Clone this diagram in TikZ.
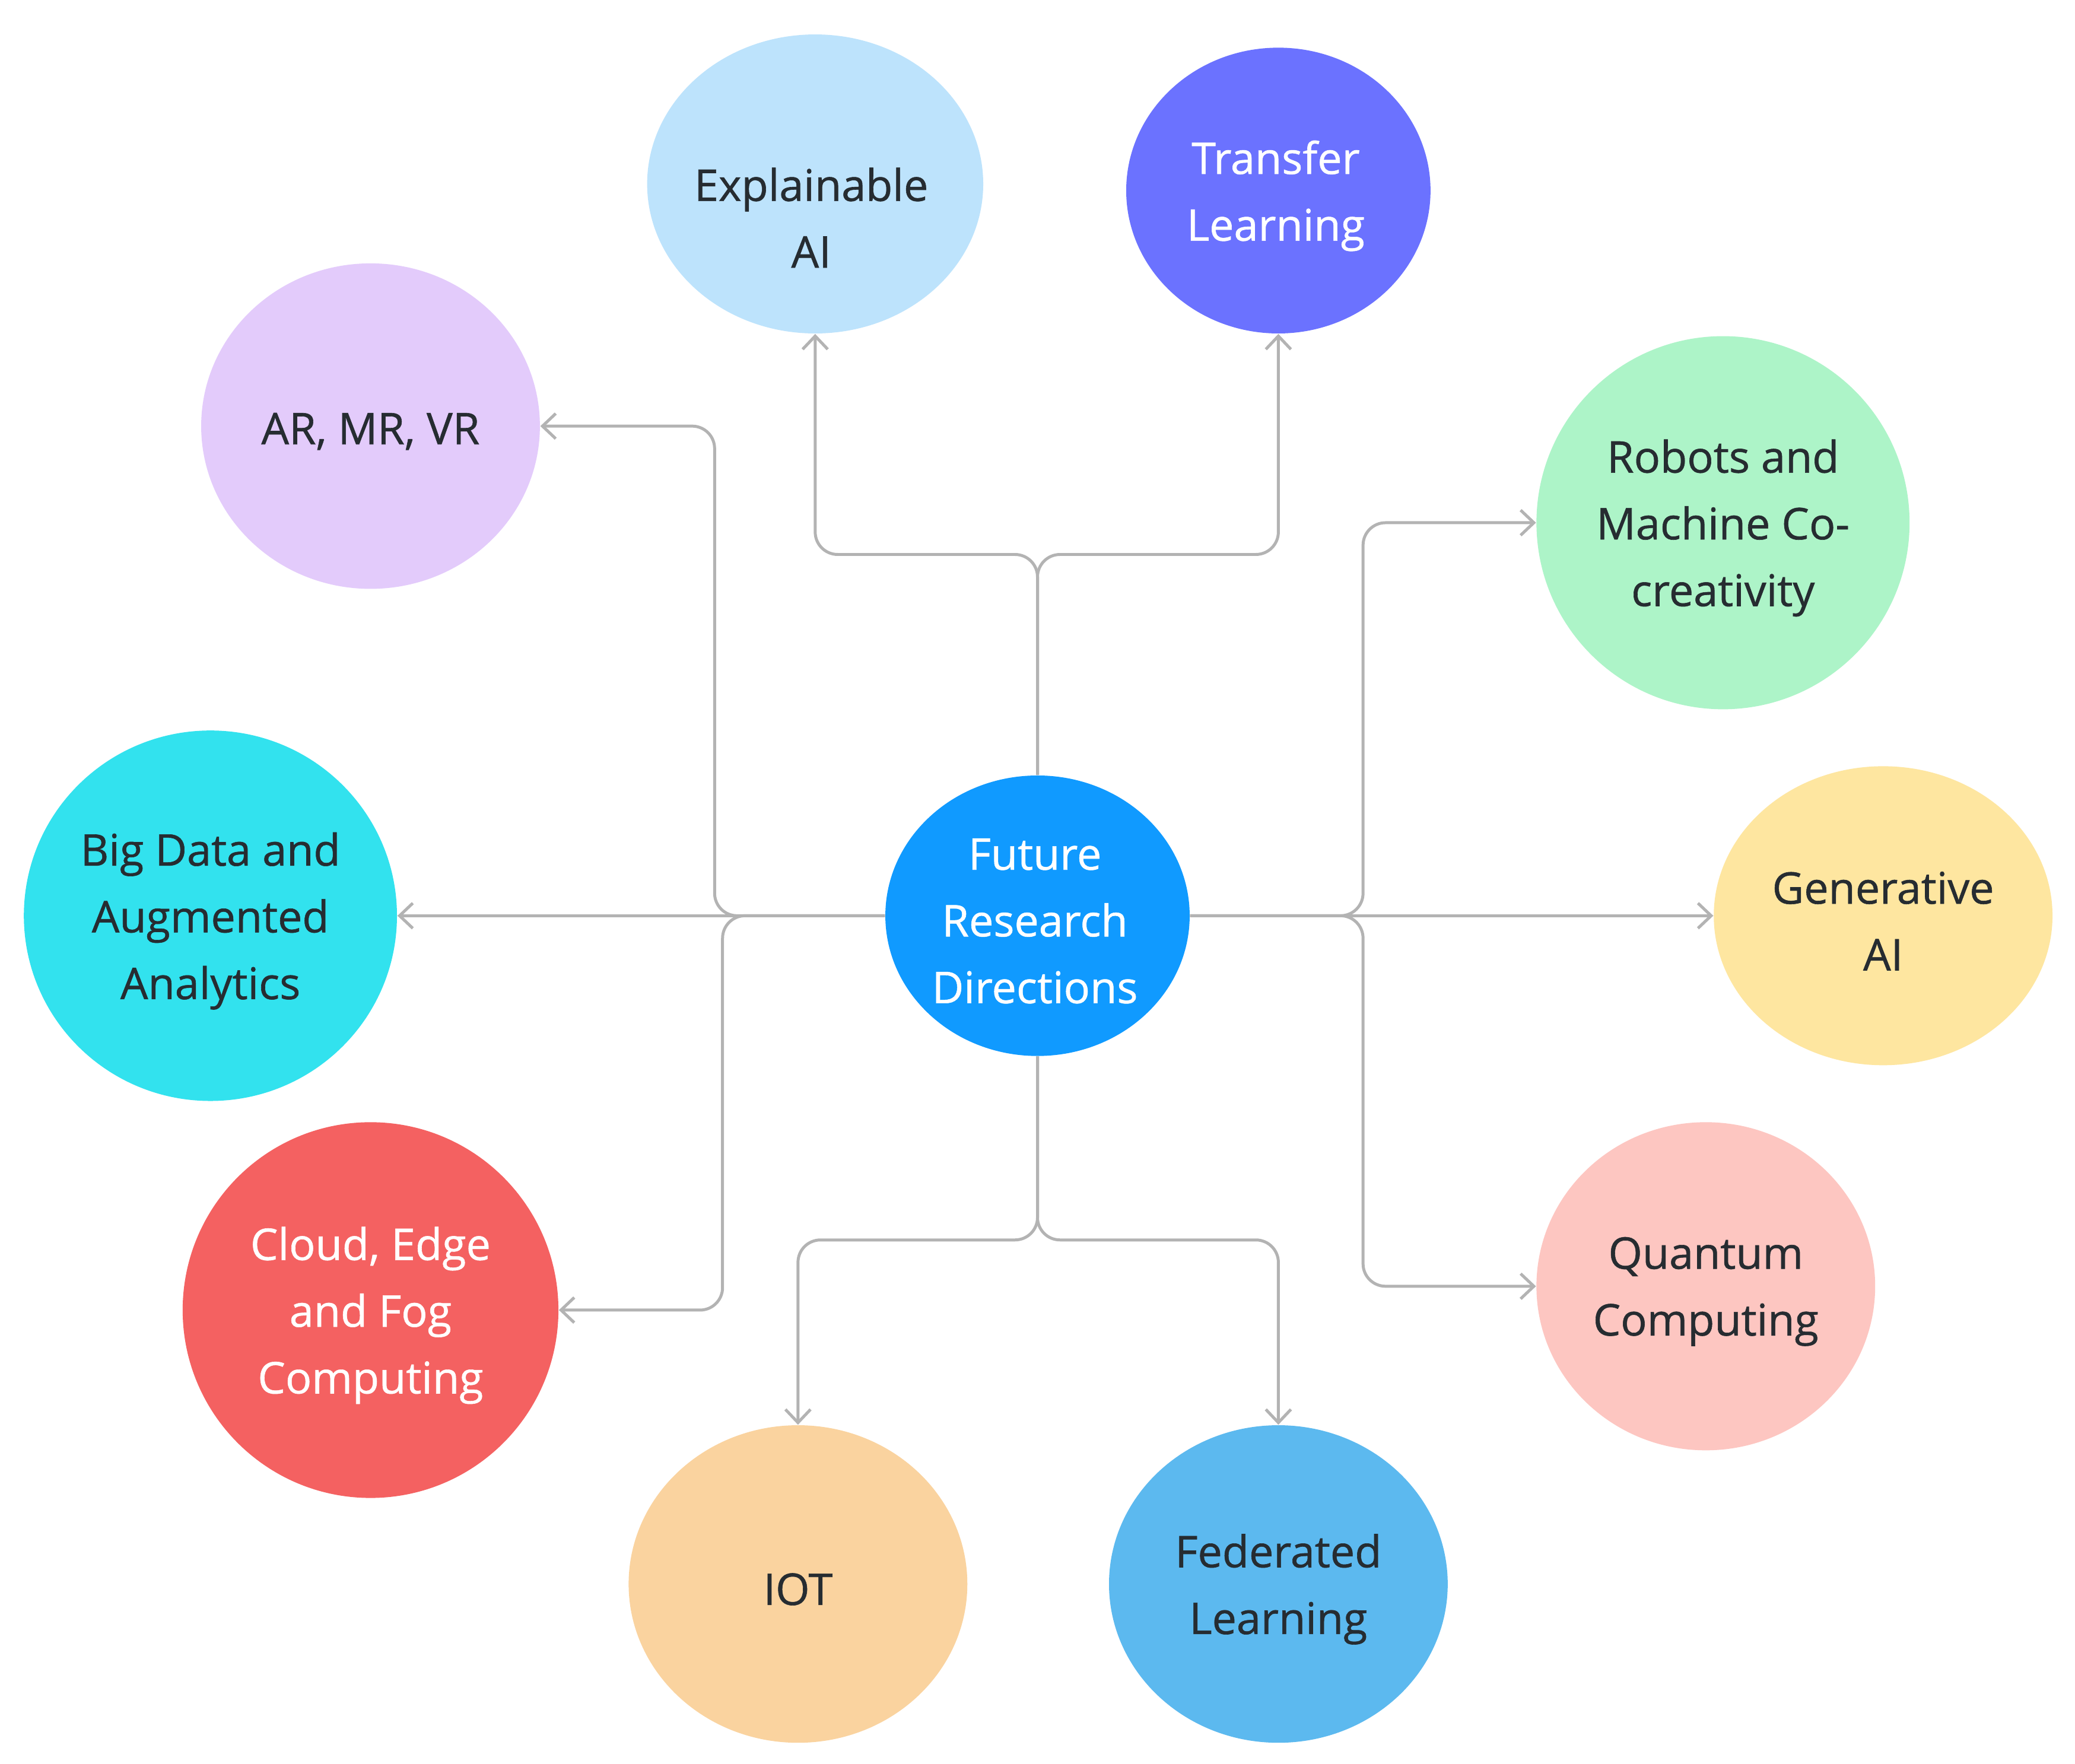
\documentclass[tikz,border=0pt]{standalone}
\usepackage{fontspec}
\setmainfont{Open Sans}[FakeBold=0.8]
\usetikzlibrary{shapes.geometric,arrows.meta}
\definecolor{dark}{HTML}{262C31}
\definecolor{linegray}{HTML}{B3B3B3}
\definecolor{cmain}{HTML}{109AFF}
\definecolor{cxai}{HTML}{BDE3FC}
\definecolor{ctl}{HTML}{6B72FF}
\definecolor{car}{HTML}{E3CBFB}
\definecolor{crob}{HTML}{ADF4C8}
\definecolor{cbd}{HTML}{32E2EE}
\definecolor{cgen}{HTML}{FEE6A0}
\definecolor{ccl}{HTML}{F46161}
\definecolor{cqc}{HTML}{FDC6C1}
\definecolor{ciot}{HTML}{FAD39F}
\definecolor{cfl}{HTML}{5CB9EF}
\begin{document}
\begin{tikzpicture}[x=0.02cm,y=-0.02cm,
  bub/.style={ellipse, inner sep=0pt, draw=none},
  txt/.style={align=center, font=\fontsize{18.8pt}{28.7pt}\selectfont, text=dark, inner sep=0pt, yshift=-0.08cm},
  conn/.style={draw=linegray, line width=1.27pt, rounded corners=0.34cm, -{Straight Barb[length=0.2cm,width=0.38cm]}}
]
\useasboundingbox (0,0) rectangle (1568,1333);
\fill[white] (0,0) rectangle (1568,1333);

% nodes
\node[bub, fill=cmain, minimum width=4.6cm, minimum height=4.24cm,
  label={[txt,text=white,xshift=-0.04cm]center:{Future\\Research\\Directions}}] (c) at (784,692) {};
\node[bub, fill=cxai, minimum width=5.08cm, minimum height=4.52cm,
  label={[txt,yshift=-0.43cm,xshift=-0.06cm]center:{Explainable\\AI}}] (xai) at (616,139) {};
\node[bub, fill=ctl, minimum width=4.6cm, minimum height=4.32cm,
  label={[txt,text=white,xshift=-0.04cm]center:{Transfer\\Learning}}] (tl) at (966,144) {};
\node[bub, fill=car, minimum width=5.12cm, minimum height=4.92cm,
  label={[txt]center:{AR, MR, VR}}] (ar) at (280,322) {};
\node[bub, fill=crob, minimum width=5.64cm, minimum height=5.64cm,
  label={[txt]center:{Robots and\\Machine Co-\\creativity}}] (rob) at (1302,395) {};
\node[bub, fill=cbd, minimum width=5.64cm, minimum height=5.6cm,
  label={[txt]center:{Big Data and\\Augmented\\Analytics}}] (bd) at (159,692) {};
\node[bub, fill=cgen, minimum width=5.12cm, minimum height=4.52cm,
  label={[txt]center:{Generative\\AI}}] (gen) at (1423,692) {};
\node[bub, fill=ccl, minimum width=5.68cm, minimum height=5.68cm,
  label={[txt,text=white]center:{Cloud, Edge\\and Fog\\Computing}}] (cl) at (280,990) {};
\node[bub, fill=cqc, minimum width=5.12cm, minimum height=4.96cm,
  label={[txt]center:{Quantum\\Computing}}] (qc) at (1289,972) {};
\node[bub, fill=ciot, minimum width=5.12cm, minimum height=4.8cm,
  label={[txt]center:{IOT}}] (iot) at (603,1197) {};
\node[bub, fill=cfl, minimum width=5.12cm, minimum height=4.8cm,
  label={[txt]center:{Federated\\Learning}}] (fl) at (966,1197) {};

% junction coordinates
\coordinate (jt) at (784,419);
\coordinate (jb) at (784,937);
\coordinate (jl1) at (540,692);
\coordinate (jl2) at (546,692);
\coordinate (jr) at (1030,692);

% connectors
\draw[conn] (c.north) -- (jt) -- (616,419) -- (xai.south);
\draw[conn] (c.north) -- (jt) -- (966,419) -- (tl.south);
\draw[conn] (c.south) -- (jb) -- (603,937) -- (iot.north);
\draw[conn] (c.south) -- (jb) -- (966,937) -- (fl.north);
\draw[conn] (c.west) -- (bd.east);
\draw[conn] (c.west) -- (jl1) -- (540,322) -- (ar.east);
\draw[conn] (c.west) -- (jl2) -- (546,990) -- (cl.east);
\draw[conn] (c.east) -- (gen.west);
\draw[conn] (c.east) -- (jr) -- (1030,395) -- (rob.west);
\draw[conn] (c.east) -- (jr) -- (1030,972) -- (qc.west);
\end{tikzpicture}
\end{document}
